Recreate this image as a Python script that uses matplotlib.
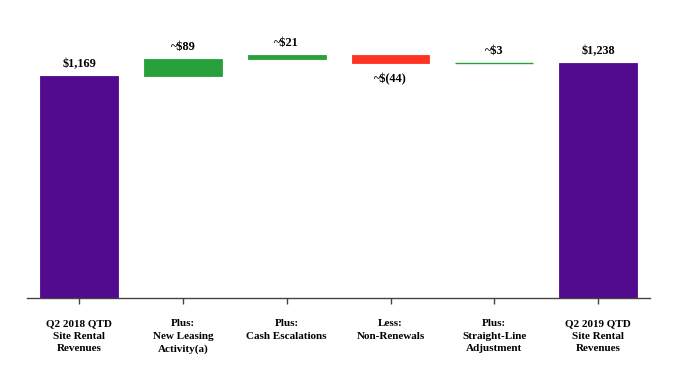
import numpy as np
from matplotlib import pyplot as plt

# Waterfall data: Q2 2018 -> Q2 2019 site rental revenues ($ millions)
categories = ['Q2 2018 QTD\nSite Rental\nRevenues',
              'Plus:\nNew Leasing\nActivity(a)',
              'Plus:\nCash Escalations',
              'Less:\nNon-Renewals',
              'Plus:\nStraight-Line\nAdjustment',
              'Q2 2019 QTD\nSite Rental\nRevenues']
changes = [1169, 89, 21, -44, 3, 1238]
labels = ['$1,169', '~$89', '~$21', '~$(44)', '~$3', '$1,238']
kinds = ['total', 'delta', 'delta', 'delta', 'delta', 'total']

PURPLE = '#520A8E'
GREEN = '#28A03C'
RED = '#FF3322'

if __name__ == "__main__":
    plt.rcParams['font.family'] = ['Liberation Serif', 'DejaVu Serif']
    fig = plt.figure(figsize=(6.82, 3.8), dpi=100)
    ax = fig.add_axes([0.04, 0.216, 0.913, 0.70])

    x = np.arange(len(categories))
    running = 0
    for i, (v, k, lab) in enumerate(zip(changes, kinds, labels)):
        if k == 'total':
            bottom, height, color = 0, v, PURPLE
            running = v
        else:
            bottom = running if v >= 0 else running + v
            height = abs(v)
            color = GREEN if v >= 0 else RED
            running += v
        # tiny bars still need a visible edge
        lw = 1.0 if height < 10 else 0.6
        ax.bar(x[i], height, bottom=bottom, width=0.75, color=color,
               edgecolor=color, linewidth=lw)
        if v >= 0 or k == 'total':
            ax.annotate(lab, (x[i], bottom + height), xytext=(0, 4),
                        textcoords='offset points', ha='center', va='bottom',
                        fontsize=8.8, fontweight='bold')
        else:
            ax.annotate(lab, (x[i], bottom), xytext=(0, -7),
                        textcoords='offset points', ha='center', va='top',
                        fontsize=8.8, fontweight='bold')

    ax.set_xlim(-0.5, 5.5)
    ax.set_ylim(0, 1400)
    ax.set_xticks(x)
    ax.set_xticklabels(categories, fontsize=8, fontweight='bold',
                       linespacing=1.55)
    ax.tick_params(axis='x', direction='out', length=4, width=1,
                   color='#444444', pad=11)
    ax.set_yticks([])
    for s in ['top', 'right', 'left']:
        ax.spines[s].set_visible(False)
    ax.spines['bottom'].set_color('#444444')
    ax.spines['bottom'].set_linewidth(1)

    fig.savefig('out.png', dpi=100)
